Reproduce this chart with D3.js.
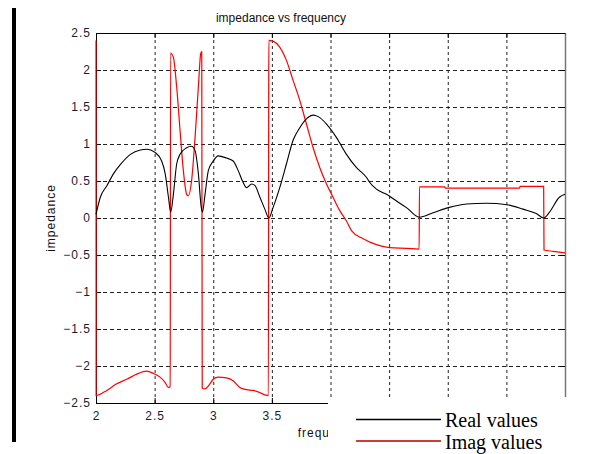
<!DOCTYPE html>
<html>
<head>
<meta charset="utf-8">
<script src="https://cdnjs.cloudflare.com/ajax/libs/d3/7.8.5/d3.min.js"></script>
<style>
body { margin: 0; background: #fff; }
svg { display: block; }
.axis text { font-family: Arial, "Liberation Sans", sans-serif; font-size: 12px; letter-spacing: 1px; fill: #1c1c30; }
.grid line { stroke: #222; stroke-dasharray: 3,3; }
</style>
</head>
<body>
<div id="chart"></div>
<script>
/* impedance vs frequency */

//** data **//
var realFreq = [2.0, 2.037, 2.094, 2.15, 2.207, 2.293, 2.378, 2.435, 2.5, 2.56, 2.59, 2.618, 2.637,
                2.66, 2.688, 2.717, 2.773, 2.815, 2.845, 2.873, 2.898, 2.908, 2.93, 2.958, 3.0,
                3.042, 3.113, 3.17, 3.213, 3.255, 3.284, 3.327, 3.355, 3.398, 3.44, 3.474, 3.51,
                3.567, 3.624, 3.681, 3.738, 3.795, 3.852, 3.895, 3.966, 4.05, 4.136, 4.222,
                4.306, 4.335, 4.392, 4.478, 4.563, 4.648, 4.757, 4.875, 5.005, 5.16, 5.33,
                5.505, 5.642, 5.755, 5.818, 5.868, 5.952, 6.0];
var realVals = [0.05, 0.28, 0.44, 0.6, 0.72, 0.86, 0.92, 0.93, 0.89, 0.77, 0.6, 0.28, 0.08,
                0.32, 0.73, 0.86, 0.95, 0.97, 0.91, 0.6, 0.14, 0.08, 0.32, 0.64, 0.77,
                0.84, 0.81, 0.77, 0.64, 0.48, 0.41, 0.46, 0.44, 0.28, 0.12, 0.0, 0.14,
                0.41, 0.73, 1.05, 1.22, 1.34, 1.39, 1.37, 1.27, 1.09, 0.86, 0.68,
                0.55, 0.48, 0.39, 0.32, 0.23, 0.14, 0.01, 0.07, 0.14, 0.19, 0.2,
                0.18, 0.12, 0.06, 0.0, 0.08, 0.28, 0.32];

var imagFreq = [2.0, 2.001, 2.092, 2.177, 2.262, 2.347, 2.433, 2.489, 2.546, 2.589, 2.617, 2.633,
                2.636, 2.66, 2.688, 2.717, 2.745, 2.773, 2.788, 2.815, 2.845, 2.873, 2.893, 2.902,
                2.906, 2.93, 2.958, 3.0, 3.042, 3.113, 3.17, 3.227, 3.284, 3.341, 3.398, 3.44,
                3.47, 3.474, 3.51, 3.567, 3.624, 3.681, 3.738, 3.795, 3.852, 3.909, 3.966,
                4.022, 4.079, 4.136, 4.179, 4.279, 4.392, 4.506, 4.648, 4.756, 4.759, 4.975,
                4.978, 5.614, 5.617, 5.818, 5.821, 5.9, 6.0];
var imagVals = [2.4, -2.4, -2.33, -2.24, -2.18, -2.11, -2.07, -2.1, -2.15, -2.22, -2.29, -2.28,
                2.23, 2.17, 1.77, 1.18, 0.64, 0.32, 0.3, 0.5, 1.09, 1.77, 2.22, 2.25,
                -2.3, -2.31, -2.27, -2.18, -2.15, -2.16, -2.2, -2.29, -2.32, -2.33, -2.36, -2.39,
                -2.4, 2.4, 2.39, 2.31, 2.13, 1.86, 1.59, 1.27, 0.95, 0.68, 0.46,
                0.28, 0.1, -0.04, -0.17, -0.28, -0.36, -0.4, -0.41, -0.42, 0.42, 0.42,
                0.405, 0.405, 0.428, 0.428, -0.433, -0.45, -0.47];

var xTicks = [2, 2.5, 3, 3.5, 4, 4.5, 5, 5.5, 6];
var yTicks = [-2.5, -2, -1.5, -1, -0.5, 0, 0.5, 1, 1.5, 2, 2.5];
var seriesNames = ["Real values", "Imag values"];

//* chart setup *//
var W = 611, H = 454,
    margin = {top: 33, right: 46, bottom: 51, left: 96},
    width = W - margin.left - margin.right,
    height = H - margin.top - margin.bottom;

var svg = d3.select("#chart").append("svg")
    .attr("width", W)
    .attr("height", H);

// thick bar on the left edge of the picture
svg.append("rect")
    .attr("x", 12).attr("y", 8)
    .attr("width", 4).attr("height", 434)
    .attr("fill", "#000");

var g = svg.append("g")
    .attr("transform", "translate(" + margin.left + "," + margin.top + ")");

var x = d3.scaleLinear().domain([2, 6]).range([0, width]);
var y = d3.scaleLinear().domain([-2.5, 2.5]).range([height, 0]);

// dashed grid
g.append("g")
    .attr("class", "grid")
    .attr("transform", "translate(0," + height + ")")
    .call(d3.axisBottom(x).tickValues(xTicks.slice(1, -1)).tickSize(-height).tickFormat(""))
    .call(function(s) { s.select(".domain").remove(); });

g.append("g")
    .attr("class", "grid")
    .call(d3.axisLeft(y).tickValues(yTicks.slice(1, -1)).tickSize(-width).tickFormat(""))
    .call(function(s) { s.select(".domain").remove(); s.selectAll("line").style("stroke-dasharray", "4,3"); });

// frame with inward ticks
var fmt = function(d) { return d3.format("")(d); };
// x labels from 4 on sit under the pasted legend box
var fmtX = function(d) { return d < 4 ? fmt(d) : ""; };

g.append("g")
    .attr("class", "axis")
    .call(d3.axisTop(x).tickValues(xTicks).tickSizeInner(-5).tickSizeOuter(0).tickFormat(""));

g.append("g")
    .attr("class", "axis axis-right")
    .attr("transform", "translate(" + width + ",0)")
    .call(d3.axisRight(y).tickValues(yTicks).tickSizeInner(-5).tickSizeOuter(0).tickFormat(""))
    .call(function(s) { s.select(".domain").attr("stroke", "#777").attr("stroke-width", 1.5); });

g.append("g")
    .attr("class", "axis")
    .attr("transform", "translate(0," + height + ")")
    .call(d3.axisBottom(x).tickValues(xTicks).tickSizeInner(-5).tickSizeOuter(0).tickPadding(8).tickFormat(fmtX));

g.append("g")
    .attr("class", "axis")
    .call(d3.axisLeft(y).tickValues(yTicks).tickSizeInner(-5).tickSizeOuter(0).tickPadding(5).tickFormat(fmt));

// title and labels
svg.append("text")
    .attr("x", 281).attr("y", 21.5)
    .attr("text-anchor", "middle")
    .attr("font-family", "Arial, 'Liberation Sans', sans-serif")
    .attr("font-size", "12px")
    .attr("fill", "#111")
    .text("impedance vs frequency");

svg.append("text")
    .attr("transform", "translate(55," + (margin.top + height / 2) + ") rotate(-90)")
    .attr("text-anchor", "middle")
    .attr("font-family", "Arial, 'Liberation Sans', sans-serif")
    .attr("font-size", "12px")
    .attr("letter-spacing", "1px")
    .attr("fill", "#111")
    .text("impedance");

svg.append("text")
    .attr("x", margin.left + width / 2 - 2).attr("y", 437)
    .attr("text-anchor", "middle")
    .attr("font-family", "Arial, 'Liberation Sans', sans-serif")
    .attr("font-size", "12px")
    .attr("letter-spacing", "1px")
    .attr("fill", "#111")
    .text("frequency");

// data lines
var imagLine = d3.line()
    .x(function(d, i) { return x(imagFreq[i]); })
    .y(function(d) { return y(d); })
    .curve(d3.curveMonotoneX);

var realLine = d3.line()
    .x(function(d, i) { return x(realFreq[i]); })
    .y(function(d) { return y(d); })
    .curve(d3.curveMonotoneX);

g.append("path")
    .datum(imagVals)
    .attr("fill", "none")
    .attr("stroke", "#ff0000")
    .attr("stroke-width", 1.2)
    .attr("d", imagLine);

g.append("path")
    .datum(realVals)
    .attr("fill", "none")
    .attr("stroke", "#000")
    .attr("stroke-width", 1.1)
    .attr("d", realLine);

//* legend box pasted over the lower right *//
svg.append("rect")
    .attr("x", 328).attr("y", 397)
    .attr("width", W - 328).attr("height", H - 397)
    .attr("fill", "#fff");

var legendColors = ["#000", "#cc3c3c"];
var legendLineY = [419.5, 441];
var legendTextY = [427, 449];

var legend = svg.selectAll(".legend")
    .data(seriesNames)
    .enter().append("g")
    .attr("class", "legend");

legend.append("line")
    .attr("x1", 356).attr("x2", 441)
    .attr("y1", function(d, i) { return legendLineY[i]; })
    .attr("y2", function(d, i) { return legendLineY[i]; })
    .attr("stroke", function(d, i) { return legendColors[i]; })
    .attr("stroke-width", function(d, i) { return i ? 2 : 1.6; });

legend.append("text")
    .attr("x", 445)
    .attr("y", function(d, i) { return legendTextY[i]; })
    .attr("font-family", "'Liberation Serif', 'Times New Roman', serif")
    .attr("font-size", "20px")
    .attr("fill", "#000")
    .text(function(d) { return d; });

</script>
</body>
</html>
